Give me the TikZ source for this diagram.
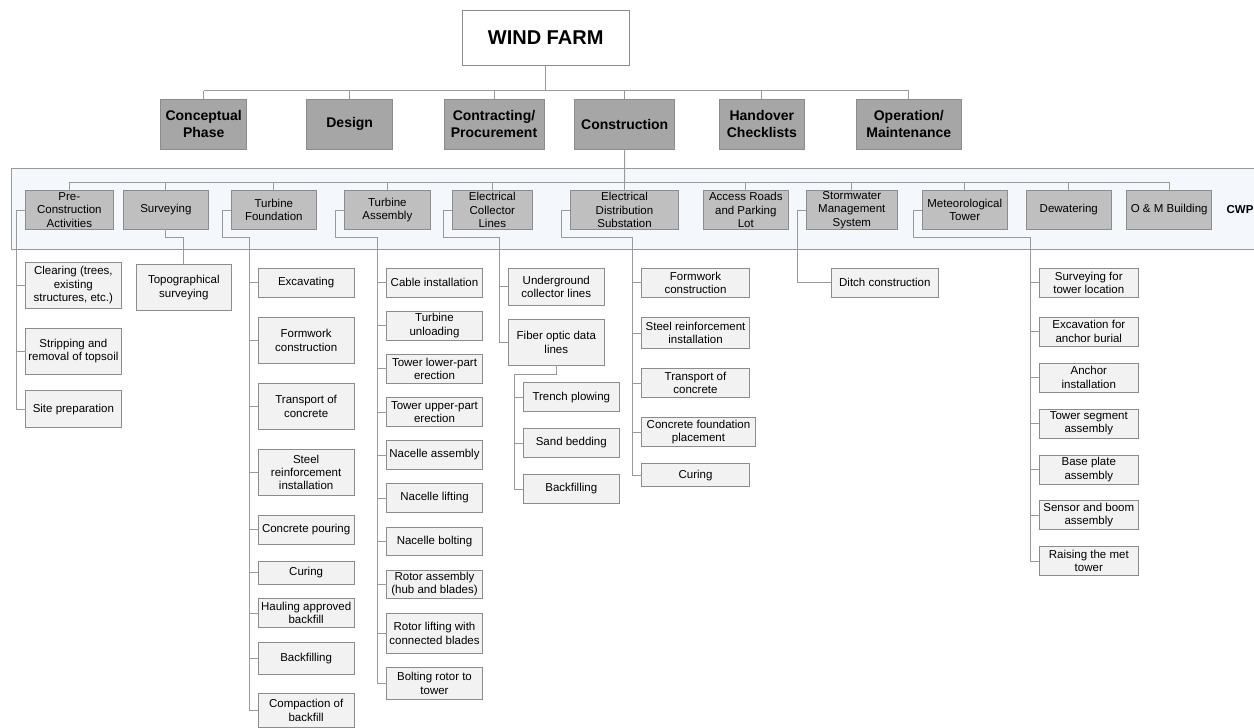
\documentclass[tikz,border=0pt]{standalone}
\usepackage{fontspec}
\setmainfont{Liberation Sans}
\usetikzlibrary{calc}
\definecolor{lineg}{HTML}{9A9A9A}
\definecolor{lonefill}{HTML}{A6A6A6}
\definecolor{ltwofill}{HTML}{BFBFBF}
\definecolor{leaffill}{HTML}{F2F2F2}
\definecolor{bandfill}{HTML}{F4F8FC}
\definecolor{bord}{HTML}{8C8C8C}
\newcommand\bx[7]{%
 \pgfmathsetmacro\bxw{#4-#2}\pgfmathsetmacro\bxh{#5-#3}%
 \pgfmathsetmacro\bxx{(#2+#4)/2}\pgfmathsetmacro\bxy{(#3+#5)/2}%
 \node[#6,minimum width=\bxw pt,minimum height=\bxh pt] (#1) at (\bxx,\bxy) {#7};}
\tikzset{
 basebox/.style={draw=bord,line width=0.9pt,inner sep=0pt,outer sep=0pt,align=center,rectangle},
 topbox/.style={basebox,fill=white,font=\fontsize{20}{24}\selectfont\bfseries},
 lonebox/.style={basebox,fill=lonefill,font=\fontsize{14}{17}\selectfont\bfseries},
 ltwobox/.style={basebox,fill=ltwofill,font=\fontsize{11.5}{13.2}\selectfont},
 leafbox/.style={basebox,fill=leaffill,font=\fontsize{11.5}{13.3}\selectfont},
 conn/.style={draw=lineg,line width=0.9pt},
 bandbox/.style={draw=lineg,line width=0.9pt,fill=bandfill}
}
\begin{document}
\begin{tikzpicture}[x=1pt,y=-1pt]
\useasboundingbox (0,0) rectangle (1254,728);
% band
\path[bandbox] (11.7,168.3) rectangle (1262,249.3);
\coordinate (lone) at (0,90.7);
\coordinate (ltwo) at (0,182.3);
\coordinate (jy) at (0,237.3);
% top
\bx{wf}{462}{10}{629.3}{65.7}{topbox}{WIND FARM}
% level 1
\bx{cp}{160.7}{99.3}{246.7}{149.3}{lonebox}{Conceptual\\Phase}
\bx{ds}{306.7}{99.3}{392.7}{149.3}{lonebox}{Design}
\bx{cn}{444}{99.3}{544}{149.3}{lonebox}{Contracting/\\Procurement}
\bx{co}{574.7}{99.3}{674.7}{149.3}{lonebox}{Construction}
\bx{ho}{719}{99.3}{804.7}{149.3}{lonebox}{Handover\\Checklists}
\bx{om}{856.3}{99.3}{961.3}{149.3}{lonebox}{Operation/\\Maintenance}
% level 2
\bx{pc}{25.7}{190.7}{113}{229.3}{ltwobox}{Pre-\\Construction\\Activities}
\bx{sv}{123.7}{190.7}{208}{229.3}{ltwobox}{Surveying}
\bx{tf}{231.3}{190.7}{316.3}{229.3}{ltwobox}{Turbine\\Foundation}
\bx{ta}{344.7}{190.7}{430}{229.3}{ltwobox}{Turbine\\Assembly}
\bx{ec}{452.3}{190.7}{532.3}{229.3}{ltwobox}{Electrical\\Collector\\Lines}
\bx{ed}{570.3}{190.7}{678.7}{229.3}{ltwobox}{Electrical\\Distribution\\Substation}
\bx{ar}{703.3}{190.7}{788.3}{229.3}{ltwobox}{Access Roads\\and Parking\\Lot}
\bx{sw}{806.3}{190.7}{897.3}{229.3}{ltwobox}{Stormwater\\Management\\System}
\bx{mt}{922.3}{190.7}{1007.3}{229.3}{ltwobox}{Meteorological\\Tower}
\bx{dw}{1026.3}{190.7}{1111.3}{229.3}{ltwobox}{Dewatering}
\bx{ob}{1126.7}{190.7}{1211.7}{229.3}{ltwobox}{O \& M Building}
\node[font=\fontsize{11.5}{13}\selectfont\bfseries,inner sep=0pt] (cwp) at (1240,210) {CWP};
% pre-construction
\bx{pca}{25.7}{262.3}{121}{308.3}{leafbox}{Clearing (trees,\\existing\\structures, etc.)}
\bx{pcb}{25.7}{328.3}{121}{374.3}{leafbox}{Stripping and\\removal of topsoil}
\bx{pcc}{25.7}{390.7}{121}{427.7}{leafbox}{Site preparation}
% surveying
\bx{sva}{136}{264.3}{231.7}{310.7}{leafbox}{Topographical\\surveying}
% turbine foundation
\bx{tfa}{258.3}{268.3}{354}{297}{leafbox}{Excavating}
\bx{tfb}{258.3}{317.3}{354}{363.3}{leafbox}{Formwork\\construction}
\bx{tfc}{258.3}{383.3}{354}{429.3}{leafbox}{Transport of\\concrete}
\bx{tfd}{258.3}{449.3}{354}{495.3}{leafbox}{Steel\\reinforcement\\installation}
\bx{tfe}{258.3}{515.3}{354}{544}{leafbox}{Concrete pouring}
\bx{tff}{258.3}{561.3}{354}{584.3}{leafbox}{Curing}
\bx{tfg}{258.3}{598.7}{354}{627.3}{leafbox}{Hauling approved\\backfill}
\bx{tfh}{258.3}{642.3}{354}{674.7}{leafbox}{Backfilling}
\bx{tfi}{258.3}{693.7}{354}{727.3}{leafbox}{Compaction of\\backfill}
% turbine assembly
\bx{taa}{386.7}{268.3}{482.3}{297}{leafbox}{Cable installation}
\bx{tab}{386.7}{311.3}{482.3}{340}{leafbox}{Turbine\\unloading}
\bx{tac}{386.7}{354.3}{482.3}{383.3}{leafbox}{Tower lower-part\\erection}
\bx{tad}{386.7}{397.7}{482.3}{426.3}{leafbox}{Tower upper-part\\erection}
\bx{tae}{386.7}{440.7}{482.3}{469.3}{leafbox}{Nacelle assembly}
\bx{taf}{386.7}{483.7}{482.3}{512.3}{leafbox}{Nacelle lifting}
\bx{tag}{386.7}{527}{482.3}{555.7}{leafbox}{Nacelle bolting}
\bx{tah}{386.7}{570}{482.3}{598.7}{leafbox}{Rotor assembly\\(hub and blades)}
\bx{tai}{386.7}{613.3}{482.3}{653.3}{leafbox}{Rotor lifting with\\connected blades}
\bx{taj}{386.7}{667.7}{482.3}{699.3}{leafbox}{Bolting rotor to\\tower}
% electrical collector
\bx{eca}{508.3}{268.3}{604.3}{305}{leafbox}{Underground\\collector lines}
\bx{ecb}{508.3}{319.3}{604.3}{365.3}{leafbox}{Fiber optic data\\lines}
\bx{fba}{523.3}{382.7}{619.3}{411.7}{leafbox}{Trench plowing}
\bx{fbb}{523.3}{428.7}{619.3}{457.3}{leafbox}{Sand bedding}
\bx{fbc}{523.3}{474.7}{619.3}{503.3}{leafbox}{Backfilling}
% electrical distribution substation
\bx{eda}{641.7}{268.3}{749.3}{297}{leafbox}{Formwork\\construction}
\bx{edb}{641.7}{317.7}{749.3}{348.7}{leafbox}{Steel reinforcement\\installation}
\bx{edc}{641.7}{368.7}{749.3}{397.3}{leafbox}{Transport of\\concrete}
\bx{edd}{641.7}{417.7}{755.3}{446.3}{leafbox}{Concrete foundation\\placement}
\bx{ede}{641.7}{463.7}{749.3}{486.7}{leafbox}{Curing}
% stormwater
\bx{swa}{831}{268.3}{938.7}{297}{leafbox}{Ditch construction}
% meteorological tower
\bx{mta}{1039.3}{268.3}{1138.3}{297.3}{leafbox}{Surveying for\\tower location}
\bx{mtb}{1039.3}{317}{1138.3}{346}{leafbox}{Excavation for\\anchor burial}
\bx{mtc}{1039.3}{363}{1138.3}{392}{leafbox}{Anchor\\installation}
\bx{mtd}{1039.3}{409}{1138.3}{438}{leafbox}{Tower segment\\assembly}
\bx{mte}{1039.3}{455}{1138.3}{484}{leafbox}{Base plate\\assembly}
\bx{mtf}{1039.3}{500.7}{1138.3}{529.7}{leafbox}{Sensor and boom\\assembly}
\bx{mtg}{1039.3}{546.7}{1138.3}{575.7}{leafbox}{Raising the met\\tower}
% ---- connectors ----
% level 1
\draw[conn] (wf.south) -- (wf.south |- lone);
\draw[conn] (cp.north |- lone) -- (om.north |- lone);
\foreach \n in {cp,ds,cn,co,ho,om} \draw[conn] (\n.north) -- (\n.north |- lone);
% level 2
\draw[conn] (co.south) -- (ed.north);
\draw[conn] (pc.north |- ltwo) -- (ob.north |- ltwo);
\foreach \n in {pc,sv,tf,ta,ec,ar,sw,mt,dw,ob} \draw[conn] (\n.north) -- (\n.north |- ltwo);
% pre-construction
\draw[conn] (pc.west) -- ++(-9,0) |- (pcc.west);
\draw[conn] (pca.west) -- ++(-9,0);
\draw[conn] (pcb.west) -- ++(-9,0);
% surveying
\draw[conn] (sv.south) |- (sva.north |- jy) -- (sva.north);
% turbine foundation
\coordinate (tfr) at ($(tfa.west)+(-9,0)$);
\draw[conn] (tf.west) -- ++(-9,0) |- (tfr |- jy) -- (tfr |- tfi.west) -- (tfi.west);
\foreach \n in {tfa,tfb,tfc,tfd,tfe,tff,tfg,tfh} \draw[conn] (\n.west) -- ++(-9,0);
% turbine assembly
\coordinate (tar) at ($(taa.west)+(-9,0)$);
\draw[conn] (ta.west) -- ++(-9,0) |- (tar |- jy) -- (tar |- taj.west) -- (taj.west);
\foreach \n in {taa,tab,tac,tad,tae,taf,tag,tah,tai} \draw[conn] (\n.west) -- ++(-9,0);
% electrical collector
\coordinate (ecr) at ($(eca.west)+(-9,0)$);
\draw[conn] (ec.west) -- ++(-9,0) |- (ecr |- jy) -- (ecr |- ecb.west) -- (ecb.west);
\draw[conn] (eca.west) -- ++(-9,0);
\coordinate (fby) at (0,374);
\coordinate (fbr) at ($(fba.west)+(-8.5,0)$);
\draw[conn] (ecb.south) |- (fbr |- fby) -- (fbr |- fbc.west) -- (fbc.west);
\draw[conn] (fba.west) -- ++(-8.5,0);
\draw[conn] (fbb.west) -- ++(-8.5,0);
% electrical distribution substation
\coordinate (edr) at ($(eda.west)+(-9,0)$);
\draw[conn] (ed.west) -- ++(-9,0) |- (edr |- jy) -- (edr |- ede.west) -- (ede.west);
\foreach \n in {eda,edb,edc,edd} \draw[conn] (\n.west) -- ++(-9,0);
% stormwater
\draw[conn] (sw.west) -- ++(-9,0) |- (swa.west);
% meteorological tower
\coordinate (mtr) at ($(mta.west)+(-8.6,0)$);
\draw[conn] (mt.west) -- ++(-9,0) |- (mtr |- jy) -- (mtr |- mtg.west) -- (mtg.west);
\foreach \n in {mta,mtb,mtc,mtd,mte,mtf} \draw[conn] (\n.west) -- ++(-8.6,0);
\end{tikzpicture}
\end{document}
